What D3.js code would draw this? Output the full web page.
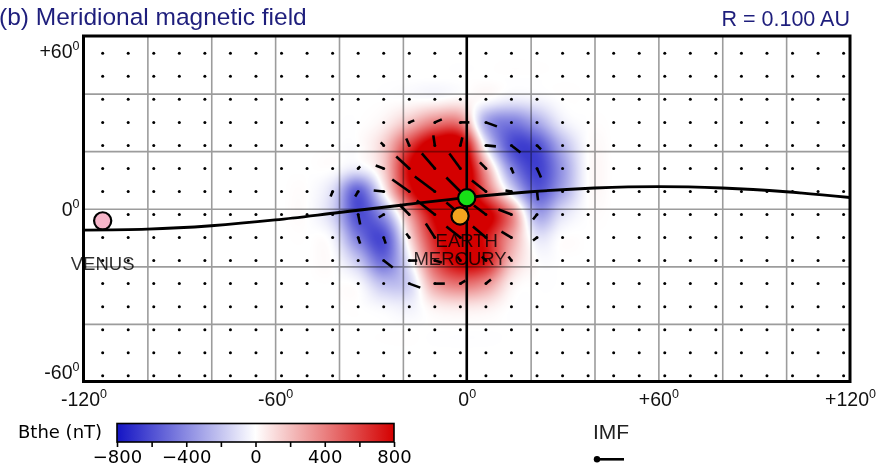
<!DOCTYPE html>
<html>
<head>
<meta charset="utf-8">
<script src="https://cdn.jsdelivr.net/npm/d3@7"></script>
<style>
  html, body { margin: 0; padding: 0; background: #fff; }
  svg { display: block; }
</style>
</head>
<body>
<svg id="chart" width="884" height="468"></svg>
<script>
// ---- axis ticks and labels ----
const lonTicks = [-120, -60, 0, 60, 120];
const lonTickLabels = ["-120", "-60", "0", "+60", "+120"];
const latTicks = [60, 0, -60];
const latTickLabels = ["+60", "0", "-60"];
const lonGrid = [-100, -80, -60, -40, -20, 0, 20, 40, 60, 80, 100];
const latGrid = [-40, -20, 0, 20, 40];

// ---- sampling nodes of the field (every 8 degrees) ----
const sampleLons = [-114, -106, -98, -90, -82, -74, -66, -58, -50, -42, -34, -26, -18, -10, -2,
                    6, 14, 22, 30, 38, 46, 54, 62, 70, 78, 86, 94, 102, 110, 118];
const sampleLats = [54, 46, 38, 30, 22, 14, 6, -2, -10, -18, -26, -34, -42, -50, -58];

// ---- meridional field Bthe (nT) on a coarse lon/lat grid ----
const fieldLons = [-50, -42, -34, -26, -18, -10, -2, 6, 14, 22, 30, 38];
const fieldLats = [46, 38, 30, 22, 14, 6, -2, -10, -18, -26, -34, -42];
const fieldBthe = [
  [0,    0,    0,    0,    0,    0,    0,    0,    0,    0,    0,   0],
  [0,    0,    0,    0,    0,    0,   30,    0,  -60,  -40,    0,   0],
  [0,    0,    0,   40,  200,  400,  400, -300, -450, -300,  -60,   0],
  [0,    0,    0,  150,  600,  950,  950,  -50, -600, -600, -250,   0],
  [0,    0,  -60,  150,  800, 1100, 1100,  300, -400, -650, -350,   0],
  [0, -120, -550,    0,  700, 1100, 1100,  500, -100, -550, -300,   0],
  [0, -150, -600, -350,  300,  850, 1100,  900,  400, -300, -100,   0],
  [0,  -40, -450, -600,  100,  700, 1000,  750,  300,  -80,    0,   0],
  [0,    0, -200, -500,  -50,  550,  850,  750,  200,    0,    0,   0],
  [0,    0,  -20, -220, -150,  300,  450,  350,   50,    0,    0,   0],
  [0,    0,    0,  -30,  -50,   50,   80,   60,    0,    0,    0,   0],
  [0,    0,    0,    0,    0,    0,    0,    0,    0,    0,    0,   0]
];

// ---- field vectors at the nodes (east / north components, nT) ----
const vecLon = [-18, -10, -2, 6,
                -26, -18, -10, -2, 6, 14, 22,
                -34, -26, -18, -10, -2, 6, 14, 22,
                -42, -34, -26, -18, -10, -2, 6, 14, 22,
                -34, -26, -18, -10, -2, 6, 14, 22,
                -34, -26, -18, -10, -2, 6, 14, 22,
                -26, -18, -10, -2, 6, 14,
                -18, -10, -2, 6];
const vecLat = [30, 30, 30, 30,
                22, 22, 22, 22, 22, 22, 22,
                14, 14, 14, 14, 14, 14, 14, 14,
                6, 6, 6, 6, 6, 6, 6, 6, 6,
                -2, -2, -2, -2, -2, -2, -2, -2,
                -10, -10, -10, -10, -10, -10, -10, -10,
                -18, -18, -18, -18, -18, -18,
                -26, -26, -26, -26];
const vecE = [250, 350, 450, 550,
              -150, -150, -75, 100, 500, 450, 200,
              100, -400, -650, -650, -550, -300, 100, 200,
              -100, -150, -500, -850, -1000, -700, -700, -300, 50,
              100, -250, -500, -900, -700, -600, -650, -200,
              100, 100, -150, -450, -700, -650, -500, -200,
              450, 400, 350, -150, -200, -150,
              550, 500, 250, 250];
const vecN = [100, 150, 0, -200,
              150, 350, 500, 400, -50, -350, -200,
              100, 150, 600, 750, 750, 300, -250, -450,
              -250, -250, 50, 600, 750, 700, 550, 50, -450,
              -500, -150, 500, 700, 600, 450, 250, -250,
              -300, -300, 200, 700, 550, 550, 300, -150,
              -350, 0, -100, 200, 200, 200,
              -200, 0, 150, 200];
const imfLegendNT = 1350;

// ---- ecliptic trace ----
const eclLon = [-120, -100, -80, -60, -40, -20, 0, 20, 40, 60, 80, 100, 120];
const eclLat = [-7.4, -7.1, -5.9, -3.9, -1.3, 1.3, 3.9, 5.9, 7.2, 7.7, 7.2, 5.9, 3.9];

// ---- planets ----
const planetNames = ["VENUS", "MERCURY", "EARTH"];
const planetLon = [-114, -2.1, 0];
const planetLat = [-4.2, -2.5, 3.8];
const planetColors = ["#f6b5c9", "#f4a21e", "#17e017"];

// ---- colour bar ----
const cbTicks = [-800, -600, -400, -200, 0, 200, 400, 600, 800];
const cbLabels = [-800, -400, 0, 400, 800];

// ================= drawing =================
const svg = d3.select("#chart");
const plot = { left: 83.5, right: 850, top: 36, bottom: 381.5 };
const x = d3.scaleLinear().domain([-120, 120]).range([plot.left, plot.right]);
const y = d3.scaleLinear().domain([-60, 60]).range([plot.bottom, plot.top]);
const color = d3.scaleLinear().domain([-800, 0, 800])
  .range(["#1414c4", "#ffffff", "#d40000"]).clamp(true);
const vecScale = d3.scaleLinear().domain([0, 1000]).range([0, 20]);

const sans = "'Liberation Sans', Arial, Helvetica, sans-serif";
const dejavu = "'DejaVu Sans', sans-serif";

svg.append("defs").append("clipPath").attr("id", "plotClip")
  .append("rect")
  .attr("x", plot.left).attr("y", plot.top)
  .attr("width", plot.right - plot.left).attr("height", plot.bottom - plot.top);

// heat map: Catmull-Rom interpolation of the coarse field
const cw = Math.ceil(plot.right - plot.left), ch = Math.ceil(plot.bottom - plot.top);
const canvas = document.createElement("canvas");
canvas.width = cw; canvas.height = ch;
const ctx = canvas.getContext("2d");
const img = ctx.createImageData(cw, ch);
const lut = d3.range(0, 1601).map(k => d3.rgb(color(k - 800)));
const lon0 = fieldLons[0], dLon = fieldLons[1] - fieldLons[0];
const lat0 = fieldLats[0], dLat = fieldLats[0] - fieldLats[1];
function cell(i, j) {
  if (i < 0 || j < 0 || j >= fieldBthe.length || i >= fieldBthe[0].length) return 0;
  return fieldBthe[j][i];
}
function cr(p0, p1, p2, p3, t) {
  return 0.5 * (2 * p1 + (-p0 + p2) * t + (2 * p0 - 5 * p1 + 4 * p2 - p3) * t * t
    + (-p0 + 3 * p1 - 3 * p2 + p3) * t * t * t);
}
for (let py = 0; py < ch; py++) {
  const lat = y.invert(plot.top + py + 0.5);
  const fj = (lat0 - lat) / dLat, j = Math.floor(fj), tj = fj - j;
  for (let px = 0; px < cw; px++) {
    const lon = x.invert(plot.left + px + 0.5);
    const fi = (lon - lon0) / dLon, i = Math.floor(fi), ti = fi - i;
    let v = 0;
    if (fi > -2 && fi < fieldLons.length + 1 && fj > -2 && fj < fieldLats.length + 1) {
      const r = [-1, 0, 1, 2].map(k =>
        cr(cell(i - 1, j + k), cell(i, j + k), cell(i + 1, j + k), cell(i + 2, j + k), ti));
      v = cr(r[0], r[1], r[2], r[3], tj);
    }
    const c = lut[Math.max(0, Math.min(1600, Math.round(v + 800)))];
    const o = (py * cw + px) * 4;
    img.data[o] = c.r; img.data[o + 1] = c.g; img.data[o + 2] = c.b; img.data[o + 3] = 255;
  }
}
ctx.putImageData(img, 0, 0);
svg.append("image")
  .attr("x", plot.left).attr("y", plot.top)
  .attr("width", cw).attr("height", ch)
  .attr("preserveAspectRatio", "none")
  .attr("clip-path", "url(#plotClip)")
  .attr("href", canvas.toDataURL());

// graticule
const gGrid = svg.append("g").style("mix-blend-mode", "multiply");
gGrid.append("g")
  .attr("transform", `translate(0,${plot.bottom})`)
  .call(d3.axisBottom(x).tickValues(lonGrid).tickSize(-(plot.bottom - plot.top)).tickFormat(""))
  .call(g => g.select(".domain").remove())
  .call(g => g.selectAll("line").attr("stroke", "#9c9c9c").attr("stroke-width", 1.6));
gGrid.append("g")
  .attr("transform", `translate(${plot.left},0)`)
  .call(d3.axisLeft(y).tickValues(latGrid).tickSize(-(plot.right - plot.left)).tickFormat(""))
  .call(g => g.select(".domain").remove())
  .call(g => g.selectAll("line").attr("stroke", "#9c9c9c").attr("stroke-width", 1.6));

// central meridian
svg.append("line")
  .attr("x1", x(0)).attr("x2", x(0)).attr("y1", plot.top).attr("y2", plot.bottom)
  .attr("stroke", "#000").attr("stroke-width", 2.6);

// node dots
const nodes = sampleLats.flatMap(la => sampleLons.map(lo => ({ lo, la })));
svg.append("g").selectAll("circle").data(nodes).join("circle")
  .attr("cx", d => x(d.lo)).attr("cy", d => y(d.la)).attr("r", 1.5).attr("fill", "#000");

// field vectors
const vecs = vecLon.map((lo, k) => ({ lo, la: vecLat[k], e: vecE[k], n: vecN[k] }));
svg.append("g").selectAll("line").data(vecs).join("line")
  .attr("x1", d => x(d.lo)).attr("y1", d => y(d.la))
  .attr("x2", d => x(d.lo) + vecScale(d.e)).attr("y2", d => y(d.la) - vecScale(d.n))
  .attr("stroke", "#000").attr("stroke-width", 2.6).attr("stroke-linecap", "butt");

// ecliptic
const eclPts = eclLon.map((lo, k) => [lo, eclLat[k]]);
svg.append("path")
  .attr("d", d3.line().x(d => x(d[0])).y(d => y(d[1])).curve(d3.curveCatmullRom)(eclPts))
  .attr("fill", "none").attr("stroke", "#000").attr("stroke-width", 2.8)
  .attr("clip-path", "url(#plotClip)");

// planets
const planets = planetNames.map((name, k) => ({ name, lo: planetLon[k], la: planetLat[k], c: planetColors[k] }));
svg.append("g").selectAll("circle").data(planets).join("circle")
  .attr("cx", d => x(d.lo)).attr("cy", d => y(d.la)).attr("r", 8.6)
  .attr("fill", d => d.c).attr("stroke", "#000").attr("stroke-width", 2.2);
svg.append("g").selectAll("text").data(planets).join("text")
  .attr("x", d => x(d.lo)).attr("y", d => y(d.la) + 49)
  .attr("text-anchor", "middle")
  .attr("font-family", sans).attr("font-size", 18.5)
  .attr("fill", "#000").attr("fill-opacity", 0.82)
  .text(d => d.name);

// frame
svg.append("rect")
  .attr("x", plot.left).attr("y", plot.top)
  .attr("width", plot.right - plot.left).attr("height", plot.bottom - plot.top)
  .attr("fill", "none").attr("stroke", "#000").attr("stroke-width", 3);

// longitude labels
const gx = svg.append("g").attr("transform", `translate(0,${plot.bottom})`)
  .call(d3.axisBottom(x).tickValues(lonTicks).tickSize(0).tickFormat((d, i) => lonTickLabels[i]));
gx.select(".domain").remove();
gx.selectAll("text")
  .attr("y", 24.5).attr("dy", null)
  .attr("font-family", sans).attr("font-size", 19.5).attr("fill", "#111")
  .append("tspan").attr("font-size", 12.5).attr("dy", -8).text("0");

// latitude labels
const gy = svg.append("g").attr("transform", `translate(${plot.left},0)`)
  .call(d3.axisLeft(y).tickValues(latTicks).tickSize(0).tickFormat((d, i) => latTickLabels[i]));
gy.select(".domain").remove();
gy.selectAll("text")
  .attr("x", -4).attr("dy", null)
  .attr("y", d => d === 60 ? 21 : d === -60 ? -3.5 : 6.5)
  .attr("font-family", sans).attr("font-size", 19.5).attr("fill", "#111")
  .append("tspan").attr("font-size", 12.5).attr("dy", -8).text("0");

// titles
svg.append("text").attr("x", -1).attr("y", 25)
  .attr("font-family", sans).attr("font-size", 24.5).attr("fill", "#1e1e7c")
  .text("(b) Meridional magnetic field");
svg.append("text").attr("x", 850).attr("y", 26).attr("text-anchor", "end")
  .attr("font-family", sans).attr("font-size", 21.5).attr("fill", "#1e1e7c")
  .text("R = 0.100 AU");

// colour bar
const cb = d3.scaleLinear().domain([-800, 800]).range([117, 394]);
const cbTop = 423.5, cbH = 18.5;
const grad = svg.select("defs").append("linearGradient").attr("id", "cbGrad")
  .attr("x1", "0%").attr("x2", "100%").attr("y1", "0%").attr("y2", "0%");
grad.selectAll("stop").data(d3.range(0, 17)).join("stop")
  .attr("offset", k => `${k / 16 * 100}%`)
  .attr("stop-color", k => color(-800 + k * 100));
svg.append("rect")
  .attr("x", cb.range()[0]).attr("y", cbTop)
  .attr("width", cb.range()[1] - cb.range()[0]).attr("height", cbH)
  .attr("fill", "url(#cbGrad)").attr("stroke", "#000").attr("stroke-width", 1.6);
const gcb = svg.append("g").attr("transform", `translate(0,${cbTop + cbH})`)
  .call(d3.axisBottom(cb).tickValues(cbTicks).tickSize(5)
    .tickFormat(d => cbLabels.includes(d) ? d3.format("d")(d) : ""));
gcb.select(".domain").remove();
gcb.selectAll("line").attr("stroke", "#000").attr("stroke-width", 1.6);
gcb.selectAll("text")
  .attr("y", 20.5).attr("dy", null)
  .attr("font-family", dejavu).attr("font-size", 18).attr("fill", "#000");
svg.append("text").attr("x", 18).attr("y", 438)
  .attr("font-family", dejavu).attr("font-size", 18).attr("fill", "#000")
  .text("Bthe (nT)");

// IMF legend
svg.append("text").attr("x", 593).attr("y", 439)
  .attr("font-family", sans).attr("font-size", 21).attr("fill", "#222")
  .text("IMF");
svg.append("circle").attr("cx", 597).attr("cy", 459.3).attr("r", 3.2).attr("fill", "#000");
svg.append("line")
  .attr("x1", 597).attr("y1", 459.3).attr("x2", 597 + vecScale(imfLegendNT)).attr("y2", 459.3)
  .attr("stroke", "#000").attr("stroke-width", 2.6);
</script>
</body>
</html>
